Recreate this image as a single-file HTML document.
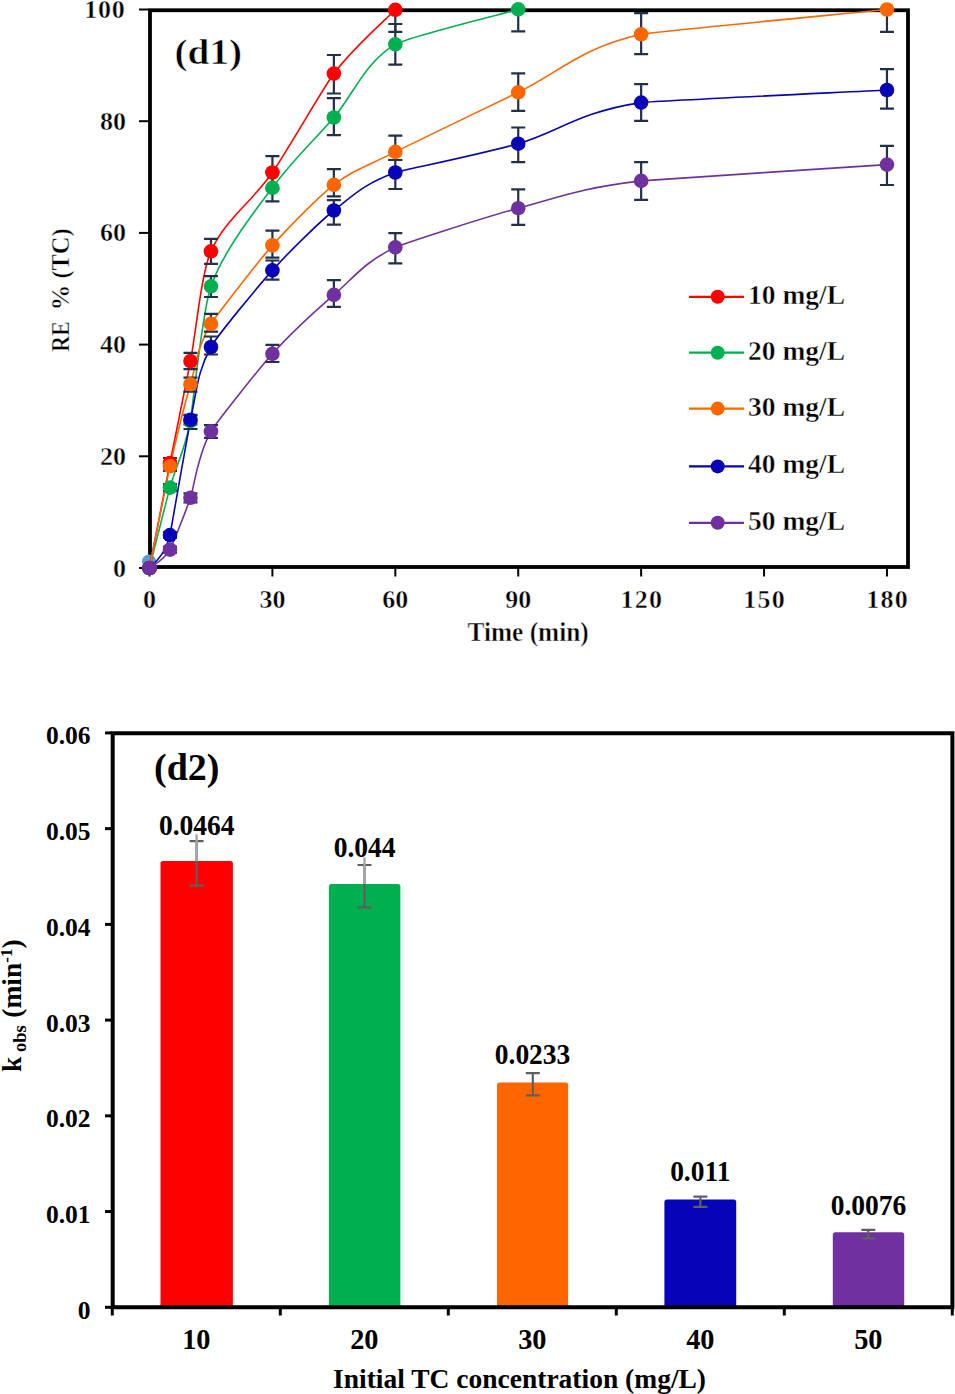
<!DOCTYPE html>
<html><head><meta charset="utf-8"><style>
html,body{margin:0;padding:0;background:#fff;}
svg{display:block;}
text{font-family:"Liberation Serif",serif;font-weight:bold;fill:#000;}
.t1{font-size:26px;stroke:#fff;stroke-width:0.45px;}
.lg{font-size:27.5px;stroke:#fff;stroke-width:0.45px;}
.d1{font-size:36px;stroke:#fff;stroke-width:0.6px;}
.t2{font-size:27.5px;}
.t3{font-size:25.5px;}
.d2{font-size:38px;}
</style></head><body>
<svg width="955" height="1394" viewBox="0 0 955 1394">
<rect width="955" height="1394" fill="#fff"/>
<rect x="150" y="10.25" width="758" height="556.75" fill="none" stroke="#000" stroke-width="3.8"/>
<line x1="139" y1="568.00" x2="149" y2="568.00" stroke="#000" stroke-width="2"/>
<text x="126" y="576.50" text-anchor="end" class="t1">0</text>
<line x1="139" y1="456.30" x2="149" y2="456.30" stroke="#000" stroke-width="2"/>
<text x="126" y="464.80" text-anchor="end" class="t1">20</text>
<line x1="139" y1="344.60" x2="149" y2="344.60" stroke="#000" stroke-width="2"/>
<text x="126" y="353.10" text-anchor="end" class="t1">40</text>
<line x1="139" y1="232.90" x2="149" y2="232.90" stroke="#000" stroke-width="2"/>
<text x="126" y="241.40" text-anchor="end" class="t1">60</text>
<line x1="139" y1="121.20" x2="149" y2="121.20" stroke="#000" stroke-width="2"/>
<text x="126" y="129.70" text-anchor="end" class="t1">80</text>
<line x1="139" y1="9.50" x2="149" y2="9.50" stroke="#000" stroke-width="2"/>
<text x="124.8" y="18.00" text-anchor="end" class="t1" textLength="40.5">100</text>
<line x1="149.50" y1="568" x2="149.50" y2="576.5" stroke="#000" stroke-width="2"/>
<text x="149.50" y="608" text-anchor="middle" class="t1">0</text>
<line x1="272.41" y1="568" x2="272.41" y2="576.5" stroke="#000" stroke-width="2"/>
<text x="272.41" y="608" text-anchor="middle" class="t1">30</text>
<line x1="395.32" y1="568" x2="395.32" y2="576.5" stroke="#000" stroke-width="2"/>
<text x="395.32" y="608" text-anchor="middle" class="t1">60</text>
<line x1="518.23" y1="568" x2="518.23" y2="576.5" stroke="#000" stroke-width="2"/>
<text x="518.23" y="608" text-anchor="middle" class="t1">90</text>
<line x1="641.14" y1="568" x2="641.14" y2="576.5" stroke="#000" stroke-width="2"/>
<text x="641.14" y="608" text-anchor="middle" class="t1" textLength="41.5">120</text>
<line x1="764.05" y1="568" x2="764.05" y2="576.5" stroke="#000" stroke-width="2"/>
<text x="764.05" y="608" text-anchor="middle" class="t1" textLength="41.5">150</text>
<line x1="886.96" y1="568" x2="886.96" y2="576.5" stroke="#000" stroke-width="2"/>
<text x="886.96" y="608" text-anchor="middle" class="t1" textLength="41.5">180</text>
<circle cx="149" cy="561.4" r="7" fill="#5b9bd5"/>
<path d="M149.50,568.00 C152.91,550.50 163.72,494.63 169.99,463.00 C176.81,428.52 183.64,396.38 190.47,361.10 C195.97,332.67 201.17,273.81 210.96,251.30 C224.61,219.87 251.93,202.12 272.41,172.50 C285.36,153.78 324.84,85.54 333.87,73.60 C354.35,46.48 385.08,20.43 395.32,9.80" fill="none" stroke="#ff0000" stroke-width="1.6"/>
<path d="M149.50,568.00 C152.91,554.60 165.94,502.11 169.99,487.60 C176.81,463.10 183.64,454.55 190.47,421.00 C191.38,416.51 202.51,310.35 210.96,286.30 C224.61,247.43 261.75,202.44 272.41,187.80 C292.90,159.67 313.38,141.40 333.87,117.50 C353.01,95.16 364.59,62.42 395.32,44.40 C408.14,36.88 497.75,15.23 518.23,9.40" fill="none" stroke="#00b050" stroke-width="1.6"/>
<path d="M149.50,568.00 C152.91,551.05 166.28,482.92 169.99,466.30 C176.81,435.67 187.56,394.32 190.47,384.20 C197.30,360.47 197.30,347.03 210.96,323.90 C214.51,317.87 259.15,260.39 272.41,245.40 C292.90,222.23 323.02,193.15 333.87,184.90 C354.35,169.32 364.59,167.33 395.32,151.90 C399.41,149.84 477.88,111.60 518.23,92.30 C559.20,72.70 579.69,48.10 641.14,34.30 C651.37,32.00 845.99,13.63 886.96,9.50" fill="none" stroke="#ff6600" stroke-width="1.6"/>
<path d="M149.50,568.00 C152.91,562.52 163.16,559.80 169.99,535.10 C170.23,534.20 188.63,428.24 190.47,419.80 C197.30,388.45 197.30,371.90 210.96,347.00 C217.19,335.63 258.74,285.58 272.41,270.40 C292.90,247.65 321.64,220.24 333.87,210.50 C354.35,194.18 364.59,183.63 395.32,172.50 C401.08,170.41 477.26,155.35 518.23,143.70 C556.09,132.93 579.69,111.55 641.14,102.60 C650.11,101.29 845.99,92.10 886.96,90.00" fill="none" stroke="#0603b8" stroke-width="1.6"/>
<path d="M149.50,568.00 C152.91,564.93 163.16,561.30 169.99,549.60 C170.81,548.19 183.64,517.50 190.47,497.80 C193.99,487.65 197.30,455.40 210.96,431.40 C215.68,423.10 259.38,368.27 272.41,353.80 C292.90,331.05 318.30,308.37 333.87,294.90 C354.35,277.17 364.59,261.85 395.32,247.40 C402.03,244.25 480.15,218.50 518.23,208.20 C559.20,197.12 579.69,188.17 641.14,180.90 C649.34,179.93 845.99,167.32 886.96,164.60" fill="none" stroke="#7030a0" stroke-width="1.6"/>
<path d="M162.99,458.00H176.99M169.99,458.00V468.50M162.99,468.50H176.99" stroke="#22304a" stroke-width="2.2" fill="none"/>
<path d="M183.47,352.90H197.47M190.47,352.90V369.10M183.47,369.10H197.47" stroke="#22304a" stroke-width="2.2" fill="none"/>
<path d="M203.96,238.90H217.96M210.96,238.90V263.90M203.96,263.90H217.96" stroke="#22304a" stroke-width="2.2" fill="none"/>
<path d="M265.41,156.20H279.41M272.41,156.20V189.00M265.41,189.00H279.41" stroke="#22304a" stroke-width="2.2" fill="none"/>
<path d="M326.87,55.00H340.87M333.87,55.00V93.50M326.87,93.50H340.87" stroke="#22304a" stroke-width="2.2" fill="none"/>
<path d="M388.32,9.80H402.32M395.32,9.80V31.80M388.32,31.80H402.32" stroke="#22304a" stroke-width="2.2" fill="none"/>
<path d="M162.99,484.00H176.99M169.99,484.00V491.00M162.99,491.00H176.99" stroke="#22304a" stroke-width="2.2" fill="none"/>
<path d="M183.47,415.50H197.47M190.47,415.50V429.00M183.47,429.00H197.47" stroke="#22304a" stroke-width="2.2" fill="none"/>
<path d="M203.96,276.20H217.96M210.96,276.20V297.00M203.96,297.00H217.96" stroke="#22304a" stroke-width="2.2" fill="none"/>
<path d="M265.41,172.00H279.41M272.41,172.00V201.40M265.41,201.40H279.41" stroke="#22304a" stroke-width="2.2" fill="none"/>
<path d="M326.87,98.10H340.87M333.87,98.10V135.10M326.87,135.10H340.87" stroke="#22304a" stroke-width="2.2" fill="none"/>
<path d="M388.32,24.00H402.32M395.32,24.00V64.60M388.32,64.60H402.32" stroke="#22304a" stroke-width="2.2" fill="none"/>
<path d="M511.23,9.40H525.23M518.23,9.40V31.40M511.23,31.40H525.23" stroke="#22304a" stroke-width="2.2" fill="none"/>
<path d="M162.99,461.00H176.99M169.99,461.00V471.00M162.99,471.00H176.99" stroke="#22304a" stroke-width="2.2" fill="none"/>
<path d="M183.47,377.70H197.47M190.47,377.70V391.70M183.47,391.70H197.47" stroke="#22304a" stroke-width="2.2" fill="none"/>
<path d="M203.96,313.90H217.96M210.96,313.90V331.60M203.96,331.60H217.96" stroke="#22304a" stroke-width="2.2" fill="none"/>
<path d="M265.41,230.60H279.41M272.41,230.60V257.70M265.41,257.70H279.41" stroke="#22304a" stroke-width="2.2" fill="none"/>
<path d="M326.87,169.20H340.87M333.87,169.20V196.30M326.87,196.30H340.87" stroke="#22304a" stroke-width="2.2" fill="none"/>
<path d="M388.32,135.60H402.32M395.32,135.60V160.00M388.32,160.00H402.32" stroke="#22304a" stroke-width="2.2" fill="none"/>
<path d="M511.23,73.30H525.23M518.23,73.30V110.80M511.23,110.80H525.23" stroke="#22304a" stroke-width="2.2" fill="none"/>
<path d="M634.14,13.20H648.14M641.14,13.20V54.20M634.14,54.20H648.14" stroke="#22304a" stroke-width="2.2" fill="none"/>
<path d="M879.96,9.50H893.96M886.96,9.50V31.90M879.96,31.90H893.96" stroke="#22304a" stroke-width="2.2" fill="none"/>
<path d="M162.99,532.00H176.99M169.99,532.00V538.00M162.99,538.00H176.99" stroke="#22304a" stroke-width="2.2" fill="none"/>
<path d="M183.47,414.80H197.47M190.47,414.80V424.50M183.47,424.50H197.47" stroke="#22304a" stroke-width="2.2" fill="none"/>
<path d="M203.96,336.50H217.96M210.96,336.50V354.50M203.96,354.50H217.96" stroke="#22304a" stroke-width="2.2" fill="none"/>
<path d="M265.41,260.50H279.41M272.41,260.50V279.70M265.41,279.70H279.41" stroke="#22304a" stroke-width="2.2" fill="none"/>
<path d="M326.87,200.20H340.87M333.87,200.20V224.70M326.87,224.70H340.87" stroke="#22304a" stroke-width="2.2" fill="none"/>
<path d="M388.32,160.00H402.32M395.32,160.00V189.00M388.32,189.00H402.32" stroke="#22304a" stroke-width="2.2" fill="none"/>
<path d="M511.23,127.50H525.23M518.23,127.50V162.10M511.23,162.10H525.23" stroke="#22304a" stroke-width="2.2" fill="none"/>
<path d="M634.14,84.10H648.14M641.14,84.10V120.80M634.14,120.80H648.14" stroke="#22304a" stroke-width="2.2" fill="none"/>
<path d="M879.96,69.10H893.96M886.96,69.10V108.60M879.96,108.60H893.96" stroke="#22304a" stroke-width="2.2" fill="none"/>
<path d="M162.99,546.60H176.99M169.99,546.60V552.60M162.99,552.60H176.99" stroke="#22304a" stroke-width="2.2" fill="none"/>
<path d="M183.47,493.30H197.47M190.47,493.30V502.30M183.47,502.30H197.47" stroke="#22304a" stroke-width="2.2" fill="none"/>
<path d="M203.96,425.20H217.96M210.96,425.20V437.80M203.96,437.80H217.96" stroke="#22304a" stroke-width="2.2" fill="none"/>
<path d="M265.41,344.80H279.41M272.41,344.80V362.00M265.41,362.00H279.41" stroke="#22304a" stroke-width="2.2" fill="none"/>
<path d="M326.87,280.20H340.87M333.87,280.20V306.80M326.87,306.80H340.87" stroke="#22304a" stroke-width="2.2" fill="none"/>
<path d="M388.32,233.20H402.32M395.32,233.20V263.40M388.32,263.40H402.32" stroke="#22304a" stroke-width="2.2" fill="none"/>
<path d="M511.23,189.40H525.23M518.23,189.40V224.90M511.23,224.90H525.23" stroke="#22304a" stroke-width="2.2" fill="none"/>
<path d="M634.14,162.10H648.14M641.14,162.10V199.90M634.14,199.90H648.14" stroke="#22304a" stroke-width="2.2" fill="none"/>
<path d="M879.96,145.80H893.96M886.96,145.80V185.00M879.96,185.00H893.96" stroke="#22304a" stroke-width="2.2" fill="none"/>
<circle cx="149.50" cy="568.00" r="7.3" fill="#ff0000"/>
<circle cx="169.99" cy="463.00" r="7.3" fill="#ff0000"/>
<circle cx="190.47" cy="361.10" r="7.3" fill="#ff0000"/>
<circle cx="210.96" cy="251.30" r="7.3" fill="#ff0000"/>
<circle cx="272.41" cy="172.50" r="7.3" fill="#ff0000"/>
<circle cx="333.87" cy="73.60" r="7.3" fill="#ff0000"/>
<circle cx="395.32" cy="9.80" r="7.3" fill="#ff0000"/>
<circle cx="149.50" cy="568.00" r="7.3" fill="#00b050"/>
<circle cx="169.99" cy="487.60" r="7.3" fill="#00b050"/>
<circle cx="190.47" cy="421.00" r="7.3" fill="#00b050"/>
<circle cx="210.96" cy="286.30" r="7.3" fill="#00b050"/>
<circle cx="272.41" cy="187.80" r="7.3" fill="#00b050"/>
<circle cx="333.87" cy="117.50" r="7.3" fill="#00b050"/>
<circle cx="395.32" cy="44.40" r="7.3" fill="#00b050"/>
<circle cx="518.23" cy="9.40" r="7.3" fill="#00b050"/>
<circle cx="149.50" cy="568.00" r="7.3" fill="#ff6600"/>
<circle cx="169.99" cy="466.30" r="7.3" fill="#ff6600"/>
<circle cx="190.47" cy="384.20" r="7.3" fill="#ff6600"/>
<circle cx="210.96" cy="323.90" r="7.3" fill="#ff6600"/>
<circle cx="272.41" cy="245.40" r="7.3" fill="#ff6600"/>
<circle cx="333.87" cy="184.90" r="7.3" fill="#ff6600"/>
<circle cx="395.32" cy="151.90" r="7.3" fill="#ff6600"/>
<circle cx="518.23" cy="92.30" r="7.3" fill="#ff6600"/>
<circle cx="641.14" cy="34.30" r="7.3" fill="#ff6600"/>
<circle cx="886.96" cy="9.50" r="7.3" fill="#ff6600"/>
<circle cx="149.50" cy="568.00" r="7.3" fill="#0603b8"/>
<circle cx="169.99" cy="535.10" r="7.3" fill="#0603b8"/>
<circle cx="190.47" cy="419.80" r="7.3" fill="#0603b8"/>
<circle cx="210.96" cy="347.00" r="7.3" fill="#0603b8"/>
<circle cx="272.41" cy="270.40" r="7.3" fill="#0603b8"/>
<circle cx="333.87" cy="210.50" r="7.3" fill="#0603b8"/>
<circle cx="395.32" cy="172.50" r="7.3" fill="#0603b8"/>
<circle cx="518.23" cy="143.70" r="7.3" fill="#0603b8"/>
<circle cx="641.14" cy="102.60" r="7.3" fill="#0603b8"/>
<circle cx="886.96" cy="90.00" r="7.3" fill="#0603b8"/>
<circle cx="149.50" cy="568.00" r="7.3" fill="#7030a0"/>
<circle cx="169.99" cy="549.60" r="7.3" fill="#7030a0"/>
<circle cx="190.47" cy="497.80" r="7.3" fill="#7030a0"/>
<circle cx="210.96" cy="431.40" r="7.3" fill="#7030a0"/>
<circle cx="272.41" cy="353.80" r="7.3" fill="#7030a0"/>
<circle cx="333.87" cy="294.90" r="7.3" fill="#7030a0"/>
<circle cx="395.32" cy="247.40" r="7.3" fill="#7030a0"/>
<circle cx="518.23" cy="208.20" r="7.3" fill="#7030a0"/>
<circle cx="641.14" cy="180.90" r="7.3" fill="#7030a0"/>
<circle cx="886.96" cy="164.60" r="7.3" fill="#7030a0"/>
<line x1="689" y1="296.8" x2="744" y2="296.8" stroke="#ff0000" stroke-width="2.2"/>
<circle cx="717.7" cy="296.8" r="7" fill="#ff0000"/>
<text x="748" y="303.8" class="lg">10 mg/L</text>
<line x1="689" y1="352.7" x2="744" y2="352.7" stroke="#00b050" stroke-width="2.2"/>
<circle cx="717.7" cy="352.7" r="7" fill="#00b050"/>
<text x="748" y="359.7" class="lg">20 mg/L</text>
<line x1="689" y1="408.6" x2="744" y2="408.6" stroke="#ff6600" stroke-width="2.2"/>
<circle cx="717.7" cy="408.6" r="7" fill="#ff6600"/>
<text x="748" y="415.6" class="lg">30 mg/L</text>
<line x1="689" y1="466.4" x2="744" y2="466.4" stroke="#0603b8" stroke-width="2.2"/>
<circle cx="717.7" cy="466.4" r="7" fill="#0603b8"/>
<text x="748" y="473.4" class="lg">40 mg/L</text>
<line x1="689" y1="522.8" x2="744" y2="522.8" stroke="#7030a0" stroke-width="2.2"/>
<circle cx="717.7" cy="522.8" r="7" fill="#7030a0"/>
<text x="748" y="529.8" class="lg">50 mg/L</text>
<text transform="translate(174.5,63.5) scale(1.09,1)" class="d1">(d1)</text>
<text transform="translate(467.5,641.3) scale(0.975,1.06)" class="t1">Time (min)</text>
<text transform="translate(68.7,352) rotate(-90)" class="t1"><tspan textLength="31" lengthAdjust="spacingAndGlyphs">RE</tspan></text>
<text transform="translate(68.7,310.5) rotate(-90)" class="t1">%</text>
<text transform="translate(68.7,278.5) rotate(-90)" class="t1" textLength="50" lengthAdjust="spacingAndGlyphs">(TC)</text>
<path d="M160.5,1307 V863.5 Q160.5,861 163.0,861 H230.4 Q232.9,861 232.9,863.5 V1307 Z" fill="#ff0000"/>
<path d="M328.9,1307 V886.5 Q328.9,884 331.4,884 H397.9 Q400.4,884 400.4,886.5 V1307 Z" fill="#00b050"/>
<path d="M497,1307 V1084.9 Q497,1082.4 499.5,1082.4 H565.6 Q568.1,1082.4 568.1,1084.9 V1307 Z" fill="#ff6600"/>
<path d="M664.4,1307 V1202.0 Q664.4,1199.5 666.9,1199.5 H733.7 Q736.2,1199.5 736.2,1202.0 V1307 Z" fill="#0603b8"/>
<path d="M832.8,1307 V1234.7 Q832.8,1232.2 835.3,1232.2 H901.7 Q904.2,1232.2 904.2,1234.7 V1307 Z" fill="#7030a0"/>
<path d="M189.6,841.1H203.6M196.6,841.1V885.7M189.6,885.7H203.6" stroke="#5f5f5f" stroke-width="2.2" fill="none"/>
<line x1="196.6" y1="834.3" x2="196.6" y2="861" stroke="#a6a6a6" stroke-width="2.4"/>
<text transform="translate(196.70,834.6) scale(1,1.05)" text-anchor="middle" class="t2">0.0464</text>
<path d="M357.5,865H371.5M364.5,865V907.3M357.5,907.3H371.5" stroke="#5f5f5f" stroke-width="2.2" fill="none"/>
<line x1="364.5" y1="857.4" x2="364.5" y2="884" stroke="#a6a6a6" stroke-width="2.4"/>
<text transform="translate(364.65,857.2) scale(1,1.05)" text-anchor="middle" class="t2">0.044</text>
<path d="M525.8,1073.2H539.8M532.8,1073.2V1095.4M525.8,1095.4H539.8" stroke="#5f5f5f" stroke-width="2.2" fill="none"/>
<text transform="translate(532.55,1064.2) scale(1,1.05)" text-anchor="middle" class="t2">0.0233</text>
<path d="M693.4,1196.6H707.4M700.4,1196.6V1206.8M693.4,1206.8H707.4" stroke="#5f5f5f" stroke-width="2.2" fill="none"/>
<text transform="translate(700.30,1181.3) scale(1,1.05)" text-anchor="middle" class="t2">0.011</text>
<path d="M861.3,1229.8H875.3M868.3,1229.8V1238.3M861.3,1238.3H875.3" stroke="#5f5f5f" stroke-width="2.2" fill="none"/>
<text transform="translate(868.50,1214.8) scale(1,1.05)" text-anchor="middle" class="t2">0.0076</text>
<path d="M112.7,733.2 H952.4 V1307.2 H112.7 Z" fill="none" stroke="#000" stroke-width="4"/>
<line x1="105" y1="1307.30" x2="112" y2="1307.30" stroke="#000" stroke-width="3"/>
<text x="90.5" y="1318.80" text-anchor="end" class="t3">0</text>
<line x1="105" y1="1211.57" x2="112" y2="1211.57" stroke="#000" stroke-width="3"/>
<text x="90.5" y="1223.07" text-anchor="end" class="t3">0.01</text>
<line x1="105" y1="1115.84" x2="112" y2="1115.84" stroke="#000" stroke-width="3"/>
<text x="90.5" y="1127.34" text-anchor="end" class="t3">0.02</text>
<line x1="105" y1="1020.11" x2="112" y2="1020.11" stroke="#000" stroke-width="3"/>
<text x="90.5" y="1031.61" text-anchor="end" class="t3">0.03</text>
<line x1="105" y1="924.38" x2="112" y2="924.38" stroke="#000" stroke-width="3"/>
<text x="90.5" y="935.88" text-anchor="end" class="t3">0.04</text>
<line x1="105" y1="828.65" x2="112" y2="828.65" stroke="#000" stroke-width="3"/>
<text x="90.5" y="840.15" text-anchor="end" class="t3">0.05</text>
<line x1="105" y1="732.92" x2="112" y2="732.92" stroke="#000" stroke-width="3"/>
<text x="90.5" y="744.42" text-anchor="end" class="t3">0.06</text>
<line x1="112.30" y1="1308" x2="112.30" y2="1315.5" stroke="#000" stroke-width="3"/>
<line x1="280.30" y1="1308" x2="280.30" y2="1315.5" stroke="#000" stroke-width="3"/>
<line x1="448.30" y1="1308" x2="448.30" y2="1315.5" stroke="#000" stroke-width="3"/>
<line x1="616.30" y1="1308" x2="616.30" y2="1315.5" stroke="#000" stroke-width="3"/>
<line x1="784.30" y1="1308" x2="784.30" y2="1315.5" stroke="#000" stroke-width="3"/>
<line x1="952.30" y1="1308" x2="952.30" y2="1315.5" stroke="#000" stroke-width="3"/>
<text transform="translate(196.30,1349) scale(1.03,1.05)" text-anchor="middle" class="t2">10</text>
<text transform="translate(364.30,1349) scale(1.03,1.05)" text-anchor="middle" class="t2">20</text>
<text transform="translate(532.30,1349) scale(1.03,1.05)" text-anchor="middle" class="t2">30</text>
<text transform="translate(700.30,1349) scale(1.03,1.05)" text-anchor="middle" class="t2">40</text>
<text transform="translate(868.30,1349) scale(1.03,1.05)" text-anchor="middle" class="t2">50</text>
<text x="154" y="780.3" class="d2">(d2)</text>
<text x="333" y="1388" class="t2">Initial TC concentration (mg/L)</text>
<text transform="translate(20.8,1072) rotate(-90)" class="t2">k<tspan font-size="18.5" dy="5"> obs </tspan><tspan dy="-5" dx="3">(min</tspan><tspan font-size="17" dy="-9">-1</tspan><tspan dy="9">)</tspan></text>
</svg>
</body></html>
